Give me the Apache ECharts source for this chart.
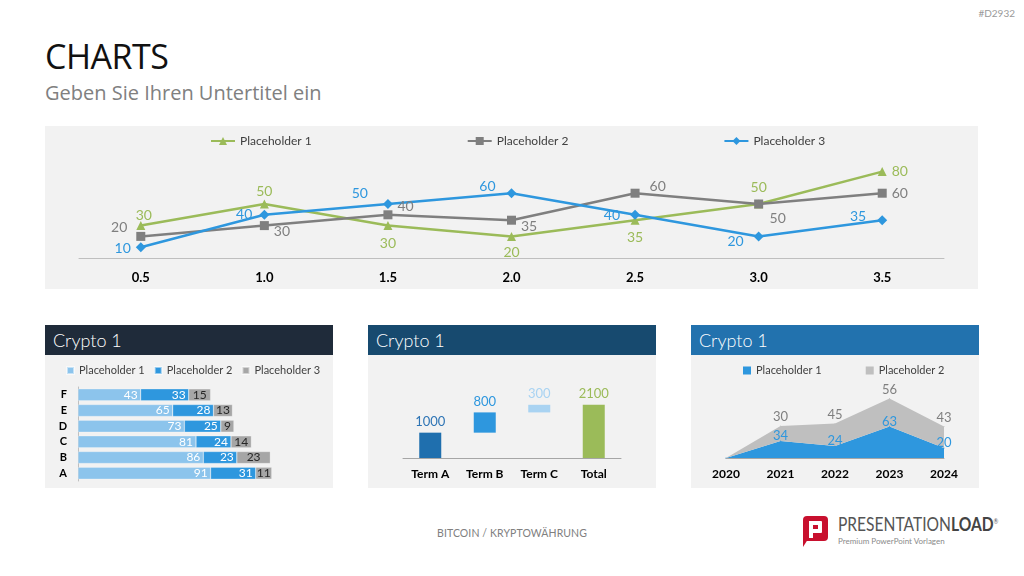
<!DOCTYPE html>
<html>
<head>
<meta charset="utf-8">
<title>Charts</title>
<script src="https://cdn.jsdelivr.net/npm/echarts@6/dist/echarts.min.js"></script>
<style>
  body { margin: 0; width: 1024px; height: 576px; position: relative; background: #fff; overflow: hidden; font-family: Lato, 'Open Sans', sans-serif; }
  .abs { position: absolute; }
  #code { right: 9px; top: 7px; font-size: 10px; color: #9a9a9a; }
  #title { left: 45px; top: 33px; font: 34px 'Open Sans', sans-serif; color: #111; letter-spacing: -0.5px; }
  #subtitle { left: 45px; top: 79px; font: 20px 'Open Sans', sans-serif; color: #808080; }
  .panel { background: #f2f2f2; }
  .head { height: 30px; color: #fff; font-size: 18px; font-weight: 300; line-height: 30px; padding-left: 8px; box-sizing: border-box; }
  #footer { left: 0; width: 1024px; top: 527px; text-align: center; font-size: 10.5px; color: #808080; letter-spacing: 0.1px; }
  #logo-text { left: 838px; top: 512px; font-size: 19px; color: #555; transform: scaleX(0.82); transform-origin: left top; white-space: nowrap; }
  #logo-text b { font-weight: 700; color: #444; }
  #logo-sub { left: 838px; top: 536px; font-size: 8px; color: #8a8a8a; white-space: nowrap; }
</style>
</head>
<body>
<div id="code" class="abs">#D2932</div>
<div id="title" class="abs">CHARTS</div>
<div id="subtitle" class="abs">Geben Sie Ihren Untertitel ein</div>

<div class="abs panel" style="left:45px;top:126px;width:933px;height:163px;">
  <div id="lineChart" style="width:933px;height:163px;"></div>
</div>

<div class="abs" style="left:45px;top:325px;width:288px;">
  <div class="head" style="background:#1f2b3a;">Crypto 1</div>
  <div class="panel"><div id="barChart" style="width:288px;height:133px;"></div></div>
</div>
<div class="abs" style="left:368px;top:325px;width:288px;">
  <div class="head" style="background:#174a6f;">Crypto 1</div>
  <div class="panel"><div id="fallChart" style="width:288px;height:133px;"></div></div>
</div>
<div class="abs" style="left:691px;top:325px;width:288px;">
  <div class="head" style="background:#2272ae;">Crypto 1</div>
  <div class="panel"><div id="areaChart" style="width:288px;height:133px;"></div></div>
</div>

<div id="footer" class="abs">BITCOIN / KRYPTOWÄHRUNG</div>

<!-- logo -->
<div class="abs" style="left:803px;top:516px;width:25px;height:25px;background:#c8102e;border-radius:4px;"></div>
<div class="abs" style="left:803px;top:536px;width:0;height:0;border-left:7px solid #c8102e;border-bottom:11px solid transparent;"></div>
<div class="abs" style="left:809px;top:521px;width:13px;height:12px;background:#fff;border-radius:1px;"></div>
<div class="abs" style="left:813px;top:525px;width:5px;height:4px;background:#c8102e;"></div>
<div class="abs" style="left:809px;top:521px;width:4px;height:17px;background:#fff;"></div>
<div id="logo-text" class="abs">PRESENTATION<b>LOAD</b><sup style="font-size:7px;">®</sup></div>
<div id="logo-sub" class="abs">Premium PowerPoint Vorlagen</div>

<script>
// ---- data ----
const xTicks = ['0.5', '1.0', '1.5', '2.0', '2.5', '3.0', '3.5'];
const line1 = [30, 50, 30, 20, 35, 50, 80];
const line2 = [20, 30, 40, 35, 60, 50, 60];
const line3 = [10, 40, 50, 60, 40, 20, 35];

const barCats = ['A', 'B', 'C', 'D', 'E', 'F'];
const bar1 = [91, 86, 81, 73, 65, 43];
const bar2 = [31, 23, 24, 25, 28, 33];
const bar3 = [11, 23, 14, 9, 13, 15];

const terms = ['Term A', 'Term B', 'Term C', 'Total'];
const termValues = [1000, 800, 300, 2100];

const years = ['2020', '2021', '2022', '2023', '2024'];
const area1 = [0, 34, 24, 63, 20];
const area2 = [0, 30, 45, 56, 43];

const seriesNames = ['Placeholder 1', 'Placeholder 2', 'Placeholder 3'];

// ---- colours ----
const green = '#9bbb59';
const grey = '#7f7f7f';
const blue = '#2e97de';
const lightBlue = '#8cc4ec';
const paleBlue = '#a9d3f2';
const darkBlue = '#1f6fae';
const midGrey = '#a6a6a6';
const txt = '#404040';
const font = 'Lato';

// label placement for the top chart: [position, dx, dy]
const pos1 = [['top', 3, 6], ['top', 0, 4], ['bottom', 0, 1], ['bottom', 0, 0], ['bottom', 0, 1], ['top', 0, 0], ['right', 0, 0]];
const pos2 = [['left', -4, -9], ['right', 0, 6], ['right', 0, -8], ['right', 0, 6], ['right', 5, -7], ['bottom', 19, -2], ['right', 0, 0]];
const pos3 = [['left', 0, 1], ['left', -2, 0], ['left', -10, -11], ['left', -6, -7], ['left', -5, 1], ['left', -5, 5], ['left', -6, -4]];

const placed = (vals, pos) => vals.map((v, i) => ({
  value: v,
  label: { position: pos[i][0], offset: [pos[i][1], pos[i][2]] }
}));

const lineSeries = (name, vals, pos, color, symbol, size) => ({
  name: name,
  type: 'line',
  data: placed(vals, pos),
  symbol: symbol,
  symbolSize: size,
  lineStyle: { width: 2.5, color: color },
  itemStyle: { color: color },
  label: { show: true, color: color, fontSize: 14, fontFamily: font }
});

// ---- top line chart ----
const lineChart = echarts.init(document.getElementById('lineChart'));
lineChart.setOption({
  animation: false,
  textStyle: { fontFamily: font },
  legend: {
    left: 160,
    top: 4,
    itemGap: 155,
    itemWidth: 24,
    itemHeight: 10,
    textStyle: { fontSize: 12, color: txt, fontFamily: font },
    data: seriesNames
  },
  grid: { left: 34, top: 24, width: 865, height: 108 },
  xAxis: {
    type: 'category',
    data: xTicks,
    boundaryGap: true,
    axisLine: { lineStyle: { color: '#bfbfbf', width: 1 } },
    axisTick: { show: false },
    axisLabel: { color: '#000', fontWeight: 'bold', fontSize: 13, margin: 13 }
  },
  yAxis: { type: 'value', min: 0, max: 100, show: false, splitLine: { show: false } },
  series: [
    lineSeries(seriesNames[0], line1, pos1, green, 'triangle', 9),
    lineSeries(seriesNames[1], line2, pos2, grey, 'rect', 9),
    lineSeries(seriesNames[2], line3, pos3, blue, 'diamond', 10)
  ]
});

// ---- stacked horizontal bars ----
const barChart = echarts.init(document.getElementById('barChart'));
const stackBar = (name, vals, color, lblColor, lblPos) => ({
  name: name,
  type: 'bar',
  stack: 'total',
  data: vals,
  barWidth: 12,
  itemStyle: { color: color, borderColor: 'rgba(255,255,255,0.5)', borderWidth: 0.5 },
  label: { show: true, position: lblPos, color: lblColor, fontSize: 12, fontFamily: font, distance: 3 }
});
barChart.setOption({
  animation: false,
  textStyle: { fontFamily: font },
  legend: {
    left: 16,
    top: 5,
    width: 280,
    itemGap: 9,
    itemWidth: 7,
    itemHeight: 7,
    icon: 'rect',
    textStyle: { fontSize: 11, color: txt, fontFamily: font },
    data: seriesNames
  },
  grid: { left: 33, top: 32, width: 204, height: 94 },
  xAxis: { type: 'value', min: 0, max: 140, show: false, splitLine: { show: false } },
  yAxis: {
    type: 'category',
    data: barCats,
    axisLine: { lineStyle: { color: '#bfbfbf' } },
    axisTick: { show: false },
    axisLabel: { color: '#000', fontWeight: 'bold', fontSize: 11, margin: 11 }
  },
  series: [
    stackBar(seriesNames[0], bar1, lightBlue, '#fff', 'insideRight'),
    stackBar(seriesNames[1], bar2, blue, '#fff', 'insideRight'),
    stackBar(seriesNames[2], bar3, midGrey, '#262626', 'inside')
  ]
});

// ---- waterfall ----
const termColors = [darkBlue, blue, paleBlue, green];
const termLabelColors = ['#2f75b5', blue, paleBlue, green];
// hidden base: running total for steps, zero for the total column
const base = [];
let running = 0;
termValues.forEach((v, i) => {
  if (i === termValues.length - 1) { base.push(0); } else { base.push(running); running += v; }
});
const fallChart = echarts.init(document.getElementById('fallChart'));
fallChart.setOption({
  animation: false,
  textStyle: { fontFamily: font },
  grid: { left: 35, top: 27, width: 218, height: 76 },
  xAxis: {
    type: 'category',
    data: terms,
    axisLine: { lineStyle: { color: '#a6a6a6' } },
    axisTick: { show: false },
    axisLabel: { color: '#000', fontWeight: 'bold', fontSize: 12, margin: 10 }
  },
  yAxis: { type: 'value', min: 0, max: 3000, show: false, splitLine: { show: false } },
  series: [
    {
      type: 'bar', stack: 'w', data: base, barWidth: 22,
      itemStyle: { color: 'transparent' }, silent: true
    },
    {
      type: 'bar', stack: 'w', barWidth: 22,
      data: termValues.map((v, i) => ({
        value: v,
        itemStyle: { color: termColors[i] },
        label: { color: termLabelColors[i] }
      })),
      label: { show: true, position: 'top', fontSize: 13, fontFamily: font, distance: 4 }
    }
  ]
});

// ---- stacked area ----
const areaChart = echarts.init(document.getElementById('areaChart'));
const hideZero = p => (p.value === 0 ? '' : p.value);
areaChart.setOption({
  animation: false,
  textStyle: { fontFamily: font },
  legend: {
    left: 47,
    top: 5,
    width: 240,
    itemGap: 44,
    itemWidth: 8,
    itemHeight: 8,
    icon: 'rect',
    textStyle: { fontSize: 11, color: txt, fontFamily: font },
    data: seriesNames.slice(0, 2)
  },
  grid: { left: 35, top: 33, width: 218, height: 70 },
  xAxis: {
    type: 'category',
    data: years,
    boundaryGap: false,
    axisLine: { lineStyle: { color: '#a6a6a6' } },
    axisTick: { show: false },
    axisLabel: { color: '#000', fontWeight: 'bold', fontSize: 12, margin: 10 }
  },
  yAxis: { type: 'value', min: 0, max: 140, show: false, splitLine: { show: false } },
  series: [
    {
      name: seriesNames[0], type: 'line', stack: 'a', data: area1,
      symbol: 'circle', symbolSize: 1, showSymbol: true,
      lineStyle: { width: 0 }, itemStyle: { color: blue },
      areaStyle: { color: blue, opacity: 1 },
      label: { show: true, position: 'top', distance: -2, color: blue, fontSize: 13, formatter: hideZero }
    },
    {
      name: seriesNames[1], type: 'line', stack: 'a', data: area2,
      symbol: 'circle', symbolSize: 1, showSymbol: true,
      lineStyle: { width: 0 }, itemStyle: { color: '#bfbfbf' },
      areaStyle: { color: '#bfbfbf', opacity: 1 },
      label: { show: true, position: 'top', distance: 2, color: grey, fontSize: 13, formatter: hideZero }
    }
  ]
});
</script>
</body>
</html>
